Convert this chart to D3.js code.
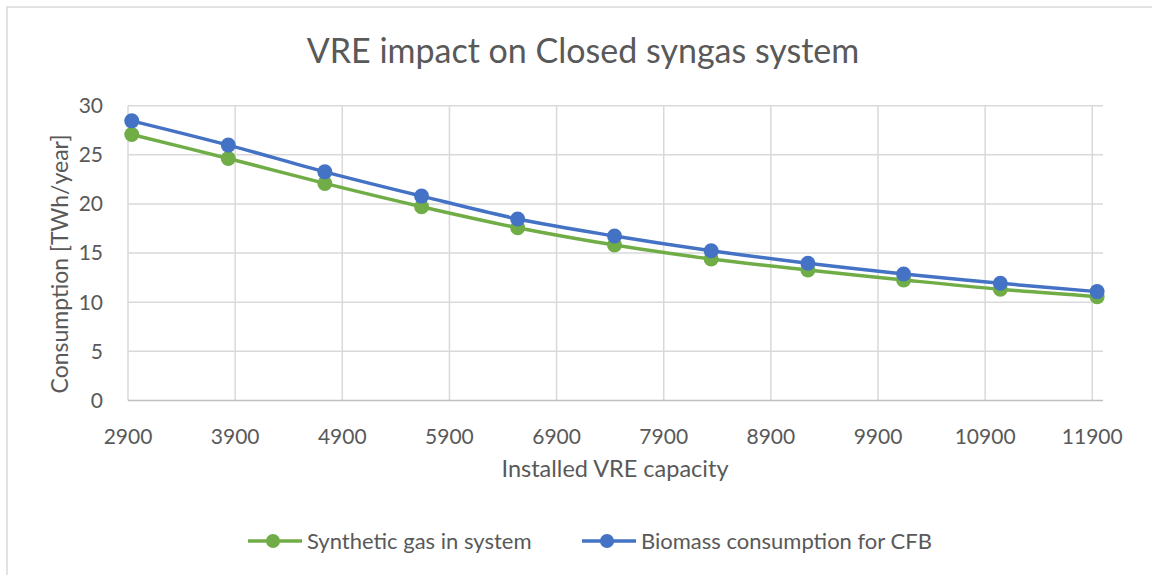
<!DOCTYPE html>
<html>
<head>
<meta charset="utf-8">
<script src="https://cdn.jsdelivr.net/npm/d3@7"></script>
<style>
  body { margin: 0; background: #fff; }
  svg text { font-family: Lato, "Open Sans", sans-serif; fill: #595959; }
</style>
</head>
<body>
<div id="chart"></div>
<script>
// data
const capacity = [2935, 3836, 4737, 5640, 6537, 7441, 8343, 9246, 10139, 11042, 11945];
const syntheticGas = [27.07, 24.63, 22.09, 19.72, 17.58, 15.82, 14.40, 13.28, 12.27, 11.32, 10.57];
const biomassCFB = [28.46, 25.99, 23.27, 20.80, 18.47, 16.74, 15.24, 13.96, 12.88, 11.93, 11.08];
const xTicks = [2900, 3900, 4900, 5900, 6900, 7900, 8900, 9900, 10900, 11900];
const yTicks = [0, 5, 10, 15, 20, 25, 30];
const seriesNames = ["Synthetic gas in system", "Biomass consumption for CFB"];
const seriesColors = ["#70AD47", "#4472C4"];

const width = 1152, height = 575;
const plot = { left: 128, right: 1103, top: 105.7, bottom: 400.5 };

const svg = d3.select("#chart").append("svg")
    .attr("width", width)
    .attr("height", height);

// chart frame (only top and left edges visible in the picture)
svg.append("path")
    .attr("d", `M7,${height} V7 H${width}`)
    .attr("fill", "none")
    .attr("stroke", "#d9d9d9")
    .attr("stroke-width", 1.5);

const x = d3.scaleLinear().domain([2900, 12000]).range([plot.left, plot.right]);
const y = d3.scaleLinear().domain([0, 30]).range([plot.bottom, plot.top]);

// horizontal gridlines
svg.append("g").selectAll("line")
    .data(yTicks.filter(d => d > 0))
    .join("line")
    .attr("x1", plot.left).attr("x2", plot.right)
    .attr("y1", d => y(d)).attr("y2", d => y(d))
    .attr("stroke", "#d9d9d9").attr("stroke-width", 1.5);

// vertical gridlines
svg.append("g").selectAll("line")
    .data(xTicks)
    .join("line")
    .attr("x1", d => x(d)).attr("x2", d => x(d))
    .attr("y1", plot.top).attr("y2", plot.bottom)
    .attr("stroke", "#d9d9d9").attr("stroke-width", 1.5);

// x axis line
svg.append("line")
    .attr("x1", plot.left).attr("x2", plot.right)
    .attr("y1", plot.bottom).attr("y2", plot.bottom)
    .attr("stroke", "#bfbfbf").attr("stroke-width", 1.5);

// y tick labels
svg.append("g").selectAll("text")
    .data(yTicks)
    .join("text")
    .attr("x", plot.left - 25)
    .attr("y", d => y(d))
    .attr("dy", "0.35em")
    .attr("text-anchor", "end")
    .style("font-size", "21px")
    .text(d => d);

// x tick labels
svg.append("g").selectAll("text")
    .data(xTicks)
    .join("text")
    .attr("x", d => x(d))
    .attr("y", 437)
    .attr("dy", "0.35em")
    .attr("text-anchor", "middle")
    .style("font-size", "21px")
    .text(d => d);

// title and axis titles
svg.append("text")
    .attr("x", 583).attr("y", 51)
    .attr("dy", "0.35em")
    .attr("text-anchor", "middle")
    .style("font-size", "34px")
    .text("VRE impact on Closed syngas system");

svg.append("text")
    .attr("x", 615).attr("y", 469)
    .attr("dy", "0.35em")
    .attr("text-anchor", "middle")
    .style("font-size", "23.5px")
    .text("Installed VRE capacity");

svg.append("text")
    .attr("transform", "translate(60,264) rotate(-90)")
    .attr("dy", "0.35em")
    .attr("text-anchor", "middle")
    .style("font-size", "23px")
    .text("Consumption [TWh/year]");

// series
const allSeries = [syntheticGas, biomassCFB];
const line = d3.line()
    .x((d, i) => x(capacity[i]))
    .y(d => y(d))
    .curve(d3.curveCatmullRom.alpha(0.5));

allSeries.forEach((values, s) => {
    const g = svg.append("g");
    g.append("path")
        .attr("d", line(values))
        .attr("fill", "none")
        .attr("stroke", seriesColors[s])
        .attr("stroke-width", 3.5);
    g.selectAll("circle")
        .data(values)
        .join("circle")
        .attr("cx", (d, i) => x(capacity[i]))
        .attr("cy", d => y(d))
        .attr("r", 7.5)
        .attr("fill", seriesColors[s]);
});

// legend
const legendX = [248, 582];
const legend = svg.append("g").selectAll("g")
    .data(seriesNames)
    .join("g")
    .attr("transform", (d, i) => `translate(${legendX[i]},541)`);
legend.append("line")
    .attr("x1", 0).attr("x2", 54)
    .attr("stroke", (d, i) => seriesColors[i])
    .attr("stroke-width", 3.5);
legend.append("circle")
    .attr("cx", 25).attr("r", 7)
    .attr("fill", (d, i) => seriesColors[i]);
legend.append("text")
    .attr("x", 59)
    .attr("dy", "0.35em")
    .style("font-size", "22px")
    .text(d => d);
</script>
</body>
</html>
